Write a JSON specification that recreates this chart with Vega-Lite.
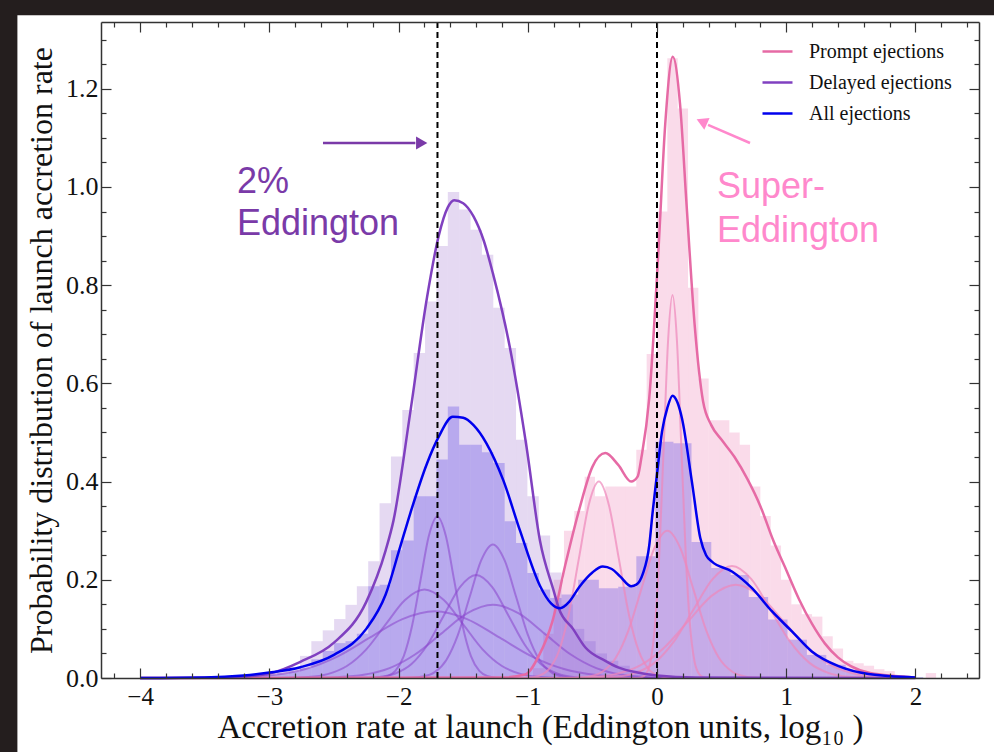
{
  "$schema": "https://vega.github.io/schema/vega-lite/v6.json",
  "width": 878,
  "height": 656,
  "autosize": {"type": "none"},
  "padding": {"left": 101, "top": 22, "right": 15, "bottom": 74},
  "background": "#241e1e",
  "config": {
    "view": {"stroke": null},
    "axis": {"grid": false}
  },
  "data": {"values": [{}]},
  "datasets": {
    "hist": [
      {"g": "prompt", "x0": -0.96, "x1": -0.88, "h": 0.02},
      {"g": "prompt", "x0": -0.88, "x1": -0.8, "h": 0.09},
      {"g": "prompt", "x0": -0.8, "x1": -0.72, "h": 0.2},
      {"g": "prompt", "x0": -0.72, "x1": -0.64, "h": 0.3},
      {"g": "prompt", "x0": -0.64, "x1": -0.56, "h": 0.34},
      {"g": "prompt", "x0": -0.56, "x1": -0.48, "h": 0.41},
      {"g": "prompt", "x0": -0.48, "x1": -0.4, "h": 0.37},
      {"g": "prompt", "x0": -0.4, "x1": -0.32, "h": 0.39},
      {"g": "prompt", "x0": -0.32, "x1": -0.24, "h": 0.39},
      {"g": "prompt", "x0": -0.24, "x1": -0.16, "h": 0.39},
      {"g": "prompt", "x0": -0.16, "x1": -0.08, "h": 0.465},
      {"g": "prompt", "x0": -0.08, "x1": 0.0, "h": 0.66},
      {"g": "prompt", "x0": 0.0, "x1": 0.08, "h": 0.95},
      {"g": "prompt", "x0": 0.08, "x1": 0.16, "h": 1.262},
      {"g": "prompt", "x0": 0.16, "x1": 0.24, "h": 1.16},
      {"g": "prompt", "x0": 0.24, "x1": 0.32, "h": 0.795},
      {"g": "prompt", "x0": 0.32, "x1": 0.4, "h": 0.61},
      {"g": "prompt", "x0": 0.4, "x1": 0.48, "h": 0.525},
      {"g": "prompt", "x0": 0.48, "x1": 0.56, "h": 0.525},
      {"g": "prompt", "x0": 0.56, "x1": 0.64, "h": 0.5},
      {"g": "prompt", "x0": 0.64, "x1": 0.72, "h": 0.475},
      {"g": "prompt", "x0": 0.72, "x1": 0.8, "h": 0.39},
      {"g": "prompt", "x0": 0.8, "x1": 0.88, "h": 0.33},
      {"g": "prompt", "x0": 0.88, "x1": 0.96, "h": 0.27},
      {"g": "prompt", "x0": 0.96, "x1": 1.04, "h": 0.2},
      {"g": "prompt", "x0": 1.04, "x1": 1.12, "h": 0.15},
      {"g": "prompt", "x0": 1.12, "x1": 1.2, "h": 0.13},
      {"g": "prompt", "x0": 1.2, "x1": 1.28, "h": 0.125},
      {"g": "prompt", "x0": 1.28, "x1": 1.36, "h": 0.085},
      {"g": "prompt", "x0": 1.36, "x1": 1.44, "h": 0.06},
      {"g": "prompt", "x0": 1.44, "x1": 1.52, "h": 0.035},
      {"g": "prompt", "x0": 1.52, "x1": 1.6, "h": 0.03},
      {"g": "prompt", "x0": 1.6, "x1": 1.68, "h": 0.025},
      {"g": "prompt", "x0": 1.68, "x1": 1.76, "h": 0.018},
      {"g": "prompt", "x0": 1.76, "x1": 1.84, "h": 0.014},
      {"g": "prompt", "x0": 1.84, "x1": 1.92, "h": 0.006},
      {"g": "prompt", "x0": 1.92, "x1": 2.0, "h": 0.004},
      {"g": "prompt", "x0": 2.08, "x1": 2.16, "h": 0.01},

      {"g": "delayed", "x0": -3.203, "x1": -3.115, "h": 0.004},
      {"g": "delayed", "x0": -3.115, "x1": -3.027, "h": 0.008},
      {"g": "delayed", "x0": -3.027, "x1": -2.939, "h": 0.012},
      {"g": "delayed", "x0": -2.939, "x1": -2.851, "h": 0.015},
      {"g": "delayed", "x0": -2.851, "x1": -2.763, "h": 0.022},
      {"g": "delayed", "x0": -2.763, "x1": -2.675, "h": 0.045},
      {"g": "delayed", "x0": -2.675, "x1": -2.587, "h": 0.075},
      {"g": "delayed", "x0": -2.587, "x1": -2.499, "h": 0.097},
      {"g": "delayed", "x0": -2.499, "x1": -2.411, "h": 0.12},
      {"g": "delayed", "x0": -2.411, "x1": -2.323, "h": 0.149},
      {"g": "delayed", "x0": -2.323, "x1": -2.235, "h": 0.187},
      {"g": "delayed", "x0": -2.235, "x1": -2.147, "h": 0.238},
      {"g": "delayed", "x0": -2.147, "x1": -2.059, "h": 0.356},
      {"g": "delayed", "x0": -2.059, "x1": -1.971, "h": 0.451},
      {"g": "delayed", "x0": -1.971, "x1": -1.883, "h": 0.546},
      {"g": "delayed", "x0": -1.883, "x1": -1.795, "h": 0.662},
      {"g": "delayed", "x0": -1.795, "x1": -1.707, "h": 0.767},
      {"g": "delayed", "x0": -1.707, "x1": -1.619, "h": 0.88},
      {"g": "delayed", "x0": -1.619, "x1": -1.531, "h": 0.99},
      {"g": "delayed", "x0": -1.531, "x1": -1.443, "h": 0.954},
      {"g": "delayed", "x0": -1.443, "x1": -1.355, "h": 0.913},
      {"g": "delayed", "x0": -1.355, "x1": -1.267, "h": 0.862},
      {"g": "delayed", "x0": -1.267, "x1": -1.179, "h": 0.754},
      {"g": "delayed", "x0": -1.179, "x1": -1.091, "h": 0.672},
      {"g": "delayed", "x0": -1.091, "x1": -1.003, "h": 0.485},
      {"g": "delayed", "x0": -1.003, "x1": -0.915, "h": 0.37},
      {"g": "delayed", "x0": -0.915, "x1": -0.827, "h": 0.29},
      {"g": "delayed", "x0": -0.827, "x1": -0.739, "h": 0.215},
      {"g": "delayed", "x0": -0.739, "x1": -0.651, "h": 0.15},
      {"g": "delayed", "x0": -0.651, "x1": -0.563, "h": 0.1},
      {"g": "delayed", "x0": -0.563, "x1": -0.475, "h": 0.075},
      {"g": "delayed", "x0": -0.475, "x1": -0.387, "h": 0.05},
      {"g": "delayed", "x0": -0.387, "x1": -0.299, "h": 0.035},
      {"g": "delayed", "x0": -0.299, "x1": -0.211, "h": 0.025},
      {"g": "delayed", "x0": -0.211, "x1": -0.123, "h": 0.015},
      {"g": "delayed", "x0": -0.123, "x1": -0.035, "h": 0.01},
      {"g": "delayed", "x0": -0.035, "x1": 0.053, "h": 0.006},

      {"g": "all", "x0": -3.115, "x1": -3.027, "h": 0.004},
      {"g": "all", "x0": -3.027, "x1": -2.939, "h": 0.006},
      {"g": "all", "x0": -2.939, "x1": -2.851, "h": 0.009},
      {"g": "all", "x0": -2.851, "x1": -2.763, "h": 0.013},
      {"g": "all", "x0": -2.763, "x1": -2.675, "h": 0.02},
      {"g": "all", "x0": -2.675, "x1": -2.587, "h": 0.038},
      {"g": "all", "x0": -2.587, "x1": -2.499, "h": 0.055},
      {"g": "all", "x0": -2.499, "x1": -2.411, "h": 0.071},
      {"g": "all", "x0": -2.411, "x1": -2.323, "h": 0.075},
      {"g": "all", "x0": -2.323, "x1": -2.235, "h": 0.09},
      {"g": "all", "x0": -2.235, "x1": -2.147, "h": 0.187},
      {"g": "all", "x0": -2.147, "x1": -2.059, "h": 0.19},
      {"g": "all", "x0": -2.059, "x1": -1.971, "h": 0.26},
      {"g": "all", "x0": -1.971, "x1": -1.883, "h": 0.28},
      {"g": "all", "x0": -1.883, "x1": -1.795, "h": 0.37},
      {"g": "all", "x0": -1.795, "x1": -1.707, "h": 0.37},
      {"g": "all", "x0": -1.707, "x1": -1.619, "h": 0.445},
      {"g": "all", "x0": -1.619, "x1": -1.531, "h": 0.553},
      {"g": "all", "x0": -1.531, "x1": -1.443, "h": 0.475},
      {"g": "all", "x0": -1.443, "x1": -1.355, "h": 0.475},
      {"g": "all", "x0": -1.355, "x1": -1.267, "h": 0.46},
      {"g": "all", "x0": -1.267, "x1": -1.179, "h": 0.438},
      {"g": "all", "x0": -1.179, "x1": -1.091, "h": 0.319},
      {"g": "all", "x0": -1.091, "x1": -1.003, "h": 0.275},
      {"g": "all", "x0": -1.003, "x1": -0.915, "h": 0.214},
      {"g": "all", "x0": -0.915, "x1": -0.827, "h": 0.18},
      {"g": "all", "x0": -0.827, "x1": -0.739, "h": 0.163},
      {"g": "all", "x0": -0.739, "x1": -0.61, "h": 0.17},
      {"g": "all", "x0": -0.61, "x1": -0.45, "h": 0.2},
      {"g": "all", "x0": -0.45, "x1": -0.3, "h": 0.183},
      {"g": "all", "x0": -0.3, "x1": -0.16, "h": 0.186},
      {"g": "all", "x0": -0.16, "x1": -0.013, "h": 0.248},
      {"g": "all", "x0": -0.013, "x1": 0.127, "h": 0.481},
      {"g": "all", "x0": 0.127, "x1": 0.267, "h": 0.478},
      {"g": "all", "x0": 0.267, "x1": 0.42, "h": 0.277},
      {"g": "all", "x0": 0.42, "x1": 0.57, "h": 0.224},
      {"g": "all", "x0": 0.57, "x1": 0.71, "h": 0.21},
      {"g": "all", "x0": 0.71, "x1": 0.86, "h": 0.165},
      {"g": "all", "x0": 0.86, "x1": 1.01, "h": 0.119},
      {"g": "all", "x0": 1.01, "x1": 1.16, "h": 0.078},
      {"g": "all", "x0": 1.16, "x1": 1.31, "h": 0.047},
      {"g": "all", "x0": 1.31, "x1": 1.46, "h": 0.027},
      {"g": "all", "x0": 1.46, "x1": 1.61, "h": 0.014},
      {"g": "all", "x0": 1.61, "x1": 1.76, "h": 0.008},
      {"g": "all", "x0": 1.76, "x1": 1.91, "h": 0.004},
      {"g": "all", "x0": 1.91, "x1": 2.06, "h": 0.002}
    ],
    "curves": [
      {"s": "Prompt ejections", "x": -4, "y": 0},
      {"s": "Prompt ejections", "x": -1.2, "y": 0.001},
      {"s": "Prompt ejections", "x": -1.02, "y": 0.007},
      {"s": "Prompt ejections", "x": -0.915, "y": 0.045},
      {"s": "Prompt ejections", "x": -0.81, "y": 0.115},
      {"s": "Prompt ejections", "x": -0.71, "y": 0.23},
      {"s": "Prompt ejections", "x": -0.6, "y": 0.345},
      {"s": "Prompt ejections", "x": -0.5, "y": 0.43},
      {"s": "Prompt ejections", "x": -0.4, "y": 0.458},
      {"s": "Prompt ejections", "x": -0.3, "y": 0.434},
      {"s": "Prompt ejections", "x": -0.2, "y": 0.4},
      {"s": "Prompt ejections", "x": -0.15, "y": 0.41},
      {"s": "Prompt ejections", "x": -0.12, "y": 0.45},
      {"s": "Prompt ejections", "x": -0.06, "y": 0.57},
      {"s": "Prompt ejections", "x": 0.013, "y": 0.88},
      {"s": "Prompt ejections", "x": 0.064, "y": 1.129},
      {"s": "Prompt ejections", "x": 0.122, "y": 1.265},
      {"s": "Prompt ejections", "x": 0.178, "y": 1.17},
      {"s": "Prompt ejections", "x": 0.229, "y": 0.963},
      {"s": "Prompt ejections", "x": 0.293, "y": 0.714},
      {"s": "Prompt ejections", "x": 0.356, "y": 0.564},
      {"s": "Prompt ejections", "x": 0.42, "y": 0.515},
      {"s": "Prompt ejections", "x": 0.5, "y": 0.485},
      {"s": "Prompt ejections", "x": 0.6, "y": 0.45},
      {"s": "Prompt ejections", "x": 0.7, "y": 0.405},
      {"s": "Prompt ejections", "x": 0.8, "y": 0.35},
      {"s": "Prompt ejections", "x": 0.9, "y": 0.28},
      {"s": "Prompt ejections", "x": 1.0, "y": 0.22},
      {"s": "Prompt ejections", "x": 1.1, "y": 0.16},
      {"s": "Prompt ejections", "x": 1.2, "y": 0.11},
      {"s": "Prompt ejections", "x": 1.3, "y": 0.07},
      {"s": "Prompt ejections", "x": 1.4, "y": 0.042},
      {"s": "Prompt ejections", "x": 1.5, "y": 0.024},
      {"s": "Prompt ejections", "x": 1.65, "y": 0.01},
      {"s": "Prompt ejections", "x": 2.0, "y": 0.001},

      {"s": "Delayed ejections", "x": -4, "y": 0},
      {"s": "Delayed ejections", "x": -3.5, "y": 0.0005},
      {"s": "Delayed ejections", "x": -3.2, "y": 0.003},
      {"s": "Delayed ejections", "x": -3.0, "y": 0.009},
      {"s": "Delayed ejections", "x": -2.76, "y": 0.033},
      {"s": "Delayed ejections", "x": -2.5, "y": 0.072},
      {"s": "Delayed ejections", "x": -2.25, "y": 0.155},
      {"s": "Delayed ejections", "x": -2.1, "y": 0.26},
      {"s": "Delayed ejections", "x": -2.04, "y": 0.32},
      {"s": "Delayed ejections", "x": -1.91, "y": 0.54},
      {"s": "Delayed ejections", "x": -1.78, "y": 0.775},
      {"s": "Delayed ejections", "x": -1.69, "y": 0.9},
      {"s": "Delayed ejections", "x": -1.62, "y": 0.958},
      {"s": "Delayed ejections", "x": -1.57, "y": 0.973},
      {"s": "Delayed ejections", "x": -1.5, "y": 0.967},
      {"s": "Delayed ejections", "x": -1.42, "y": 0.94},
      {"s": "Delayed ejections", "x": -1.34, "y": 0.89},
      {"s": "Delayed ejections", "x": -1.27, "y": 0.824},
      {"s": "Delayed ejections", "x": -1.14, "y": 0.675},
      {"s": "Delayed ejections", "x": -1.01, "y": 0.471},
      {"s": "Delayed ejections", "x": -0.906, "y": 0.28},
      {"s": "Delayed ejections", "x": -0.8, "y": 0.178},
      {"s": "Delayed ejections", "x": -0.76, "y": 0.142},
      {"s": "Delayed ejections", "x": -0.65, "y": 0.1},
      {"s": "Delayed ejections", "x": -0.554, "y": 0.062},
      {"s": "Delayed ejections", "x": -0.4, "y": 0.035},
      {"s": "Delayed ejections", "x": -0.296, "y": 0.021},
      {"s": "Delayed ejections", "x": -0.15, "y": 0.011},
      {"s": "Delayed ejections", "x": 0, "y": 0.005},
      {"s": "Delayed ejections", "x": 0.3, "y": 0.001},
      {"s": "Delayed ejections", "x": 2, "y": 0},

      {"s": "All ejections", "x": -4, "y": 0},
      {"s": "All ejections", "x": -3.5, "y": 0.001},
      {"s": "All ejections", "x": -3.2, "y": 0.005},
      {"s": "All ejections", "x": -3.0, "y": 0.011},
      {"s": "All ejections", "x": -2.76, "y": 0.022},
      {"s": "All ejections", "x": -2.5, "y": 0.047},
      {"s": "All ejections", "x": -2.25, "y": 0.1},
      {"s": "All ejections", "x": -2.1, "y": 0.17},
      {"s": "All ejections", "x": -1.99, "y": 0.265},
      {"s": "All ejections", "x": -1.91, "y": 0.335},
      {"s": "All ejections", "x": -1.78, "y": 0.437},
      {"s": "All ejections", "x": -1.69, "y": 0.491},
      {"s": "All ejections", "x": -1.58, "y": 0.532},
      {"s": "All ejections", "x": -1.5, "y": 0.53},
      {"s": "All ejections", "x": -1.42, "y": 0.515},
      {"s": "All ejections", "x": -1.32, "y": 0.478},
      {"s": "All ejections", "x": -1.19, "y": 0.403},
      {"s": "All ejections", "x": -1.06, "y": 0.3},
      {"s": "All ejections", "x": -0.906, "y": 0.188},
      {"s": "All ejections", "x": -0.82, "y": 0.152},
      {"s": "All ejections", "x": -0.75, "y": 0.142},
      {"s": "All ejections", "x": -0.68, "y": 0.155},
      {"s": "All ejections", "x": -0.6, "y": 0.186},
      {"s": "All ejections", "x": -0.5, "y": 0.215},
      {"s": "All ejections", "x": -0.42, "y": 0.227},
      {"s": "All ejections", "x": -0.35, "y": 0.222},
      {"s": "All ejections", "x": -0.286, "y": 0.207},
      {"s": "All ejections", "x": -0.2, "y": 0.187},
      {"s": "All ejections", "x": -0.16, "y": 0.19},
      {"s": "All ejections", "x": -0.11, "y": 0.212},
      {"s": "All ejections", "x": -0.06, "y": 0.27},
      {"s": "All ejections", "x": -0.035, "y": 0.335},
      {"s": "All ejections", "x": 0.0, "y": 0.415},
      {"s": "All ejections", "x": 0.039, "y": 0.502},
      {"s": "All ejections", "x": 0.08, "y": 0.55},
      {"s": "All ejections", "x": 0.12, "y": 0.575},
      {"s": "All ejections", "x": 0.16, "y": 0.56},
      {"s": "All ejections", "x": 0.193, "y": 0.529},
      {"s": "All ejections", "x": 0.27, "y": 0.4},
      {"s": "All ejections", "x": 0.335, "y": 0.285},
      {"s": "All ejections", "x": 0.38, "y": 0.25},
      {"s": "All ejections", "x": 0.425, "y": 0.237},
      {"s": "All ejections", "x": 0.58, "y": 0.217},
      {"s": "All ejections", "x": 0.735, "y": 0.183},
      {"s": "All ejections", "x": 0.889, "y": 0.136},
      {"s": "All ejections", "x": 1.044, "y": 0.095},
      {"s": "All ejections", "x": 1.198, "y": 0.054},
      {"s": "All ejections", "x": 1.405, "y": 0.024},
      {"s": "All ejections", "x": 1.637, "y": 0.008},
      {"s": "All ejections", "x": 2.0, "y": 0.001}
    ],
    "comps": [
      {"c": "d1", "f": "d", "x": -4, "y": 0},
      {"c": "d1", "f": "d", "x": -2.22, "y": 0},
      {"c": "d1", "f": "d", "x": -2.155, "y": 0.0007},
      {"c": "d1", "f": "d", "x": -2.09, "y": 0.0037},
      {"c": "d1", "f": "d", "x": -2.025, "y": 0.0144},
      {"c": "d1", "f": "d", "x": -1.96, "y": 0.0445},
      {"c": "d1", "f": "d", "x": -1.895, "y": 0.1068},
      {"c": "d1", "f": "d", "x": -1.83, "y": 0.1995},
      {"c": "d1", "f": "d", "x": -1.765, "y": 0.2903},
      {"c": "d1", "f": "d", "x": -1.7, "y": 0.329},
      {"c": "d1", "f": "d", "x": -1.635, "y": 0.2903},
      {"c": "d1", "f": "d", "x": -1.57, "y": 0.1995},
      {"c": "d1", "f": "d", "x": -1.505, "y": 0.1068},
      {"c": "d1", "f": "d", "x": -1.44, "y": 0.0445},
      {"c": "d1", "f": "d", "x": -1.375, "y": 0.0144},
      {"c": "d1", "f": "d", "x": -1.31, "y": 0.0037},
      {"c": "d1", "f": "d", "x": -1.245, "y": 0.0007},
      {"c": "d1", "f": "d", "x": -1.18, "y": 0},
      {"c": "d1", "f": "d", "x": 2, "y": 0},

      {"c": "d2", "f": "d", "x": -4, "y": 0},
      {"c": "d2", "f": "d", "x": -1.99, "y": 0},
      {"c": "d2", "f": "d", "x": -1.9, "y": 0.0006},
      {"c": "d2", "f": "d", "x": -1.81, "y": 0.003},
      {"c": "d2", "f": "d", "x": -1.72, "y": 0.0119},
      {"c": "d2", "f": "d", "x": -1.63, "y": 0.0368},
      {"c": "d2", "f": "d", "x": -1.54, "y": 0.0883},
      {"c": "d2", "f": "d", "x": -1.45, "y": 0.165},
      {"c": "d2", "f": "d", "x": -1.36, "y": 0.24},
      {"c": "d2", "f": "d", "x": -1.27, "y": 0.272},
      {"c": "d2", "f": "d", "x": -1.18, "y": 0.24},
      {"c": "d2", "f": "d", "x": -1.09, "y": 0.165},
      {"c": "d2", "f": "d", "x": -1.0, "y": 0.0883},
      {"c": "d2", "f": "d", "x": -0.91, "y": 0.0368},
      {"c": "d2", "f": "d", "x": -0.82, "y": 0.0119},
      {"c": "d2", "f": "d", "x": -0.73, "y": 0.003},
      {"c": "d2", "f": "d", "x": -0.64, "y": 0.0006},
      {"c": "d2", "f": "d", "x": -0.55, "y": 0},
      {"c": "d2", "f": "d", "x": 2, "y": 0},

      {"c": "d3", "f": "d", "x": -4, "y": 0},
      {"c": "d3", "f": "d", "x": -2.4, "y": 0},
      {"c": "d3", "f": "d", "x": -2.275, "y": 0.0005},
      {"c": "d3", "f": "d", "x": -2.15, "y": 0.0023},
      {"c": "d3", "f": "d", "x": -2.025, "y": 0.0092},
      {"c": "d3", "f": "d", "x": -1.9, "y": 0.0284},
      {"c": "d3", "f": "d", "x": -1.775, "y": 0.0682},
      {"c": "d3", "f": "d", "x": -1.65, "y": 0.1274},
      {"c": "d3", "f": "d", "x": -1.525, "y": 0.1853},
      {"c": "d3", "f": "d", "x": -1.4, "y": 0.21},
      {"c": "d3", "f": "d", "x": -1.275, "y": 0.1853},
      {"c": "d3", "f": "d", "x": -1.15, "y": 0.1274},
      {"c": "d3", "f": "d", "x": -1.025, "y": 0.0682},
      {"c": "d3", "f": "d", "x": -0.9, "y": 0.0284},
      {"c": "d3", "f": "d", "x": -0.775, "y": 0.0092},
      {"c": "d3", "f": "d", "x": -0.65, "y": 0.0023},
      {"c": "d3", "f": "d", "x": -0.525, "y": 0.0005},
      {"c": "d3", "f": "d", "x": -0.4, "y": 0},
      {"c": "d3", "f": "d", "x": 2, "y": 0},

      {"c": "d4", "f": "d", "x": -4, "y": 0},
      {"c": "d4", "f": "d", "x": -3.0, "y": 0},
      {"c": "d4", "f": "d", "x": -2.85, "y": 0.0004},
      {"c": "d4", "f": "d", "x": -2.7, "y": 0.002},
      {"c": "d4", "f": "d", "x": -2.55, "y": 0.0079},
      {"c": "d4", "f": "d", "x": -2.4, "y": 0.0244},
      {"c": "d4", "f": "d", "x": -2.25, "y": 0.0584},
      {"c": "d4", "f": "d", "x": -2.1, "y": 0.1092},
      {"c": "d4", "f": "d", "x": -1.95, "y": 0.1589},
      {"c": "d4", "f": "d", "x": -1.8, "y": 0.18},
      {"c": "d4", "f": "d", "x": -1.65, "y": 0.1589},
      {"c": "d4", "f": "d", "x": -1.5, "y": 0.1092},
      {"c": "d4", "f": "d", "x": -1.35, "y": 0.0584},
      {"c": "d4", "f": "d", "x": -1.2, "y": 0.0244},
      {"c": "d4", "f": "d", "x": -1.05, "y": 0.0079},
      {"c": "d4", "f": "d", "x": -0.9, "y": 0.002},
      {"c": "d4", "f": "d", "x": -0.75, "y": 0.0004},
      {"c": "d4", "f": "d", "x": -0.6, "y": 0},
      {"c": "d4", "f": "d", "x": 2, "y": 0},

      {"c": "d5", "f": "d", "x": -4, "y": 0},
      {"c": "d5", "f": "d", "x": -3.72, "y": 0},
      {"c": "d5", "f": "d", "x": -3.47, "y": 0.0003},
      {"c": "d5", "f": "d", "x": -3.22, "y": 0.0015},
      {"c": "d5", "f": "d", "x": -2.97, "y": 0.006},
      {"c": "d5", "f": "d", "x": -2.72, "y": 0.0184},
      {"c": "d5", "f": "d", "x": -2.47, "y": 0.0442},
      {"c": "d5", "f": "d", "x": -2.22, "y": 0.0825},
      {"c": "d5", "f": "d", "x": -1.97, "y": 0.12},
      {"c": "d5", "f": "d", "x": -1.72, "y": 0.136},
      {"c": "d5", "f": "d", "x": -1.47, "y": 0.12},
      {"c": "d5", "f": "d", "x": -1.22, "y": 0.0825},
      {"c": "d5", "f": "d", "x": -0.97, "y": 0.0442},
      {"c": "d5", "f": "d", "x": -0.72, "y": 0.0184},
      {"c": "d5", "f": "d", "x": -0.47, "y": 0.006},
      {"c": "d5", "f": "d", "x": -0.22, "y": 0.0015},
      {"c": "d5", "f": "d", "x": 0.03, "y": 0.0003},
      {"c": "d5", "f": "d", "x": 0.28, "y": 0},
      {"c": "d5", "f": "d", "x": 2, "y": 0},

      {"c": "d6", "f": "d", "x": -4, "y": 0},
      {"c": "d6", "f": "d", "x": -2.87, "y": 0},
      {"c": "d6", "f": "d", "x": -2.67, "y": 0.0003},
      {"c": "d6", "f": "d", "x": -2.47, "y": 0.0017},
      {"c": "d6", "f": "d", "x": -2.27, "y": 0.0065},
      {"c": "d6", "f": "d", "x": -2.07, "y": 0.0202},
      {"c": "d6", "f": "d", "x": -1.87, "y": 0.0484},
      {"c": "d6", "f": "d", "x": -1.67, "y": 0.0904},
      {"c": "d6", "f": "d", "x": -1.47, "y": 0.1315},
      {"c": "d6", "f": "d", "x": -1.27, "y": 0.149},
      {"c": "d6", "f": "d", "x": -1.07, "y": 0.1315},
      {"c": "d6", "f": "d", "x": -0.87, "y": 0.0904},
      {"c": "d6", "f": "d", "x": -0.67, "y": 0.0484},
      {"c": "d6", "f": "d", "x": -0.47, "y": 0.0202},
      {"c": "d6", "f": "d", "x": -0.27, "y": 0.0065},
      {"c": "d6", "f": "d", "x": -0.07, "y": 0.0017},
      {"c": "d6", "f": "d", "x": 0.13, "y": 0.0003},
      {"c": "d6", "f": "d", "x": 0.33, "y": 0},
      {"c": "d6", "f": "d", "x": 2, "y": 0},

      {"c": "p1", "f": "p", "x": -4, "y": 0},
      {"c": "p1", "f": "p", "x": -1.07, "y": 0},
      {"c": "p1", "f": "p", "x": -0.993, "y": 0.0009},
      {"c": "p1", "f": "p", "x": -0.915, "y": 0.0044},
      {"c": "p1", "f": "p", "x": -0.838, "y": 0.0176},
      {"c": "p1", "f": "p", "x": -0.76, "y": 0.0541},
      {"c": "p1", "f": "p", "x": -0.683, "y": 0.1299},
      {"c": "p1", "f": "p", "x": -0.605, "y": 0.2426},
      {"c": "p1", "f": "p", "x": -0.528, "y": 0.353},
      {"c": "p1", "f": "p", "x": -0.45, "y": 0.4},
      {"c": "p1", "f": "p", "x": -0.373, "y": 0.353},
      {"c": "p1", "f": "p", "x": -0.295, "y": 0.2426},
      {"c": "p1", "f": "p", "x": -0.218, "y": 0.1299},
      {"c": "p1", "f": "p", "x": -0.14, "y": 0.0541},
      {"c": "p1", "f": "p", "x": -0.063, "y": 0.0176},
      {"c": "p1", "f": "p", "x": 0.015, "y": 0.0044},
      {"c": "p1", "f": "p", "x": 0.093, "y": 0.0009},
      {"c": "p1", "f": "p", "x": 0.17, "y": 0},
      {"c": "p1", "f": "p", "x": 2, "y": 0},

      {"c": "p2", "f": "p", "x": -4, "y": 0},
      {"c": "p2", "f": "p", "x": -0.152, "y": 0},
      {"c": "p2", "f": "p", "x": -0.118, "y": 0.0017},
      {"c": "p2", "f": "p", "x": -0.084, "y": 0.0087},
      {"c": "p2", "f": "p", "x": -0.05, "y": 0.0342},
      {"c": "p2", "f": "p", "x": -0.016, "y": 0.1055},
      {"c": "p2", "f": "p", "x": 0.018, "y": 0.2533},
      {"c": "p2", "f": "p", "x": 0.052, "y": 0.4731},
      {"c": "p2", "f": "p", "x": 0.086, "y": 0.6884},
      {"c": "p2", "f": "p", "x": 0.12, "y": 0.78},
      {"c": "p2", "f": "p", "x": 0.154, "y": 0.6884},
      {"c": "p2", "f": "p", "x": 0.188, "y": 0.4731},
      {"c": "p2", "f": "p", "x": 0.222, "y": 0.2533},
      {"c": "p2", "f": "p", "x": 0.256, "y": 0.1055},
      {"c": "p2", "f": "p", "x": 0.29, "y": 0.0342},
      {"c": "p2", "f": "p", "x": 0.324, "y": 0.0087},
      {"c": "p2", "f": "p", "x": 0.358, "y": 0.0017},
      {"c": "p2", "f": "p", "x": 0.392, "y": 0},
      {"c": "p2", "f": "p", "x": 2, "y": 0},

      {"c": "p3", "f": "p", "x": -4, "y": 0},
      {"c": "p3", "f": "p", "x": -0.72, "y": 0},
      {"c": "p3", "f": "p", "x": -0.62, "y": 0.0007},
      {"c": "p3", "f": "p", "x": -0.52, "y": 0.0033},
      {"c": "p3", "f": "p", "x": -0.42, "y": 0.0132},
      {"c": "p3", "f": "p", "x": -0.32, "y": 0.0406},
      {"c": "p3", "f": "p", "x": -0.22, "y": 0.0974},
      {"c": "p3", "f": "p", "x": -0.12, "y": 0.182},
      {"c": "p3", "f": "p", "x": -0.02, "y": 0.2648},
      {"c": "p3", "f": "p", "x": 0.08, "y": 0.3},
      {"c": "p3", "f": "p", "x": 0.18, "y": 0.2648},
      {"c": "p3", "f": "p", "x": 0.28, "y": 0.182},
      {"c": "p3", "f": "p", "x": 0.38, "y": 0.0974},
      {"c": "p3", "f": "p", "x": 0.48, "y": 0.0406},
      {"c": "p3", "f": "p", "x": 0.58, "y": 0.0132},
      {"c": "p3", "f": "p", "x": 0.68, "y": 0.0033},
      {"c": "p3", "f": "p", "x": 0.78, "y": 0.0007},
      {"c": "p3", "f": "p", "x": 0.88, "y": 0},
      {"c": "p3", "f": "p", "x": 2, "y": 0},

      {"c": "p4", "f": "p", "x": -4, "y": 0},
      {"c": "p4", "f": "p", "x": -0.62, "y": 0},
      {"c": "p4", "f": "p", "x": -0.47, "y": 0.0005},
      {"c": "p4", "f": "p", "x": -0.32, "y": 0.0025},
      {"c": "p4", "f": "p", "x": -0.17, "y": 0.01},
      {"c": "p4", "f": "p", "x": -0.02, "y": 0.0308},
      {"c": "p4", "f": "p", "x": 0.13, "y": 0.074},
      {"c": "p4", "f": "p", "x": 0.28, "y": 0.1383},
      {"c": "p4", "f": "p", "x": 0.43, "y": 0.2012},
      {"c": "p4", "f": "p", "x": 0.58, "y": 0.228},
      {"c": "p4", "f": "p", "x": 0.73, "y": 0.2012},
      {"c": "p4", "f": "p", "x": 0.88, "y": 0.1383},
      {"c": "p4", "f": "p", "x": 1.03, "y": 0.074},
      {"c": "p4", "f": "p", "x": 1.18, "y": 0.0308},
      {"c": "p4", "f": "p", "x": 1.33, "y": 0.01},
      {"c": "p4", "f": "p", "x": 1.48, "y": 0.0025},
      {"c": "p4", "f": "p", "x": 1.63, "y": 0.0005},
      {"c": "p4", "f": "p", "x": 1.78, "y": 0},
      {"c": "p4", "f": "p", "x": 2, "y": 0},

      {"c": "p5", "f": "p", "x": -4, "y": 0},
      {"c": "p5", "f": "p", "x": -0.87, "y": 0},
      {"c": "p5", "f": "p", "x": -0.685, "y": 0.0004},
      {"c": "p5", "f": "p", "x": -0.5, "y": 0.0021},
      {"c": "p5", "f": "p", "x": -0.315, "y": 0.0083},
      {"c": "p5", "f": "p", "x": -0.13, "y": 0.0257},
      {"c": "p5", "f": "p", "x": 0.055, "y": 0.0617},
      {"c": "p5", "f": "p", "x": 0.24, "y": 0.1152},
      {"c": "p5", "f": "p", "x": 0.425, "y": 0.1677},
      {"c": "p5", "f": "p", "x": 0.61, "y": 0.19},
      {"c": "p5", "f": "p", "x": 0.795, "y": 0.1677},
      {"c": "p5", "f": "p", "x": 0.98, "y": 0.1152},
      {"c": "p5", "f": "p", "x": 1.165, "y": 0.0617},
      {"c": "p5", "f": "p", "x": 1.35, "y": 0.0257},
      {"c": "p5", "f": "p", "x": 1.535, "y": 0.0083},
      {"c": "p5", "f": "p", "x": 1.72, "y": 0.0021},
      {"c": "p5", "f": "p", "x": 1.905, "y": 0.0004},
      {"c": "p5", "f": "p", "x": 2, "y": 0}
    ]
  },
  "resolve": {"axis": {"x": "independent", "y": "independent"}},
  "layer": [
    {
      "description": "white page behind the figure",
      "mark": {"type": "rect", "color": "white", "clip": false},
      "encoding": {
        "x": {"datum": -4.95, "type": "quantitative", "scale": {"domain": [-4.303, 2.492], "nice": false, "zero": false}, "axis": null},
        "x2": {"datum": 2.8},
        "y": {"datum": -0.25, "type": "quantitative", "scale": {"domain": [0, 1.336], "nice": false, "zero": false}, "axis": null},
        "y2": {"datum": 1.35}
      }
    },
    {
      "data": {"name": "hist"},
      "transform": [{"filter": "datum.g === 'prompt'"}],
      "mark": {"type": "rect", "color": "#ee88bb", "opacity": 0.3},
      "encoding": {
        "x": {
          "field": "x0", "type": "quantitative",
          "scale": {"domain": [-4.303, 2.492], "nice": false, "zero": false},
          "axis": {
            "orient": "bottom", "zindex": 2,
            "values": [-4.2, -4, -3.8, -3.6, -3.4, -3.2, -3, -2.8, -2.6, -2.4, -2.2, -2, -1.8, -1.6, -1.4, -1.2, -1, -0.8, -0.6, -0.4, -0.2, 0, 0.2, 0.4, 0.6, 0.8, 1, 1.2, 1.4, 1.6, 1.8, 2, 2.2, 2.4],
            "title": "Accretion rate at launch (Eddington units, log₁₀ )",
            "titleFont": "Liberation Serif", "titleFontSize": 33, "titleFontWeight": "normal", "titleColor": "#111", "titlePadding": -3,
            "labelFont": "Liberation Serif", "labelFontSize": 25, "labelColor": "#111",
            "labelExpr": "abs(datum.value - round(datum.value)) < 0.001 ? (datum.value < -0.5 ? '\u2212' + format(-datum.value, 'd') : format(datum.value, 'd')) : ''",
            "labelPadding": 16, "labelFlush": false, "labelOverlap": false,
            "domainColor": "#333", "domainWidth": 1.5,
            "tickColor": "#333", "tickWidth": 1.2,
            "tickSize": {"condition": {"test": "abs(datum.value - round(datum.value)) < 0.001", "value": -10}, "value": -5}
          }
        },
        "x2": {"field": "x1"},
        "y": {
          "field": "h", "type": "quantitative",
          "scale": {"domain": [0, 1.336], "nice": false, "zero": false},
          "axis": {
            "orient": "left", "zindex": 2,
            "values": [0, 0.05, 0.1, 0.15, 0.2, 0.25, 0.3, 0.35, 0.4, 0.45, 0.5, 0.55, 0.6, 0.65, 0.7, 0.75, 0.8, 0.85, 0.9, 0.95, 1, 1.05, 1.1, 1.15, 1.2, 1.25, 1.3],
            "title": "Probability distribution of launch accretion rate",
            "titleFont": "Liberation Serif", "titleFontSize": 32, "titleFontWeight": "normal", "titleColor": "#111", "titlePadding": 7,
            "labelFont": "Liberation Serif", "labelFontSize": 26, "labelColor": "#111",
            "labelExpr": "abs(datum.value * 5 - round(datum.value * 5)) < 0.001 ? format(datum.value, '.1f') : ''",
            "labelPadding": 13, "labelFlush": false, "labelOverlap": false,
            "domainColor": "#333", "domainWidth": 1.5,
            "tickColor": "#333", "tickWidth": 1.2,
            "tickSize": {"condition": {"test": "abs(datum.value * 5 - round(datum.value * 5)) < 0.001", "value": -10}, "value": -5}
          }
        },
        "y2": {"datum": 0}
      }
    },
    {
      "data": {"name": "hist"},
      "transform": [{"filter": "datum.g === 'delayed'"}],
      "mark": {"type": "rect", "color": "#9966cc", "opacity": 0.25},
      "encoding": {
        "x": {"field": "x0", "type": "quantitative", "axis": null},
        "x2": {"field": "x1"},
        "y": {"field": "h", "type": "quantitative", "axis": null},
        "y2": {"datum": 0}
      }
    },
    {
      "data": {"name": "hist"},
      "transform": [{"filter": "datum.g === 'all'"}],
      "mark": {"type": "rect", "color": "#503ce6", "opacity": 0.3},
      "encoding": {
        "x": {"field": "x0", "type": "quantitative", "axis": null},
        "x2": {"field": "x1"},
        "y": {"field": "h", "type": "quantitative", "axis": null},
        "y2": {"datum": 0}
      }
    },
    {
      "data": {"name": "comps"},
      "transform": [{"filter": "datum.f === 'd'"}],
      "mark": {"type": "line", "color": "#8844cc", "opacity": 0.55, "strokeWidth": 2, "interpolate": "monotone"},
      "encoding": {
        "x": {"field": "x", "type": "quantitative", "axis": null},
        "y": {"field": "y", "type": "quantitative", "axis": null},
        "detail": {"field": "c"}
      }
    },
    {
      "data": {"name": "comps"},
      "transform": [{"filter": "datum.f === 'p'"}],
      "mark": {"type": "line", "color": "#ee88bb", "opacity": 0.7, "strokeWidth": 2, "interpolate": "monotone"},
      "encoding": {
        "x": {"field": "x", "type": "quantitative", "axis": null},
        "y": {"field": "y", "type": "quantitative", "axis": null},
        "detail": {"field": "c"}
      }
    },
    {
      "data": {"name": "curves"},
      "mark": {"type": "line", "strokeWidth": 2.5, "interpolate": "monotone"},
      "encoding": {
        "x": {
          "field": "x", "type": "quantitative",
          "scale": {"domain": [-4.303, 2.492], "nice": false, "zero": false},
          "axis": {
            "orient": "top", "zindex": 2, "title": null, "labels": false,
            "values": [-4.2, -4, -3.8, -3.6, -3.4, -3.2, -3, -2.8, -2.6, -2.4, -2.2, -2, -1.8, -1.6, -1.4, -1.2, -1, -0.8, -0.6, -0.4, -0.2, 0, 0.2, 0.4, 0.6, 0.8, 1, 1.2, 1.4, 1.6, 1.8, 2, 2.2, 2.4],
            "domainColor": "#333", "domainWidth": 1.5,
            "tickColor": "#333", "tickWidth": 1.2,
            "tickSize": {"condition": {"test": "abs(datum.value - round(datum.value)) < 0.001", "value": -10}, "value": -5}
          }
        },
        "y": {
          "field": "y", "type": "quantitative",
          "scale": {"domain": [0, 1.336], "nice": false, "zero": false},
          "axis": {
            "orient": "right", "zindex": 2, "title": null, "labels": false,
            "values": [0, 0.05, 0.1, 0.15, 0.2, 0.25, 0.3, 0.35, 0.4, 0.45, 0.5, 0.55, 0.6, 0.65, 0.7, 0.75, 0.8, 0.85, 0.9, 0.95, 1, 1.05, 1.1, 1.15, 1.2, 1.25, 1.3],
            "domainColor": "#333", "domainWidth": 1.5,
            "tickColor": "#333", "tickWidth": 1.2,
            "tickSize": {"condition": {"test": "abs(datum.value * 5 - round(datum.value * 5)) < 0.001", "value": -10}, "value": -5}
          }
        },
        "color": {
          "field": "s", "type": "nominal",
          "scale": {"domain": ["Prompt ejections", "Delayed ejections", "All ejections"], "range": ["#e66aa5", "#8040c0", "#0000ee"]},
          "legend": {
            "orient": "none", "legendX": 660, "legendY": 13, "title": null, "padding": 0,
            "symbolType": "stroke", "symbolSize": 900, "symbolStrokeWidth": 2.5,
            "labelFont": "Liberation Serif", "labelFontSize": 20, "labelColor": "#111",
            "labelOffset": 15, "rowPadding": 4
          }
        }
      }
    },
    {
      "data": {"values": [{"v": -1.699}, {"v": 0}]},
      "mark": {"type": "rule", "color": "black", "strokeWidth": 2, "strokeDash": [6, 4]},
      "encoding": {
        "x": {"field": "v", "type": "quantitative", "axis": null}
      }
    },
    {
      "mark": {"type": "text", "text": ["2%", "Eddington"], "font": "Liberation Sans", "fontSize": 36, "lineHeight": 42, "align": "left", "baseline": "alphabetic", "color": "#7a3aa8"},
      "encoding": {
        "x": {"datum": -3.251, "type": "quantitative", "axis": null},
        "y": {"datum": 0.9878, "type": "quantitative", "axis": null}
      }
    },
    {
      "mark": {"type": "text", "text": ["Super-", "Eddington"], "font": "Liberation Sans", "fontSize": 36, "lineHeight": 44, "align": "left", "baseline": "alphabetic", "color": "#ff88cc"},
      "encoding": {
        "x": {"datum": 0.464, "type": "quantitative", "axis": null},
        "y": {"datum": 0.9776, "type": "quantitative", "axis": null}
      }
    },
    {
      "mark": {"type": "rule", "color": "#7a3aa8", "strokeWidth": 2.5},
      "encoding": {
        "x": {"datum": -2.585, "type": "quantitative", "axis": null},
        "x2": {"datum": -1.87},
        "y": {"datum": 1.0896, "type": "quantitative", "axis": null},
        "y2": {"datum": 1.0896}
      }
    },
    {
      "mark": {"type": "point", "shape": "triangle-right", "filled": true, "size": 170, "color": "#7a3aa8", "opacity": 1},
      "encoding": {
        "x": {"datum": -1.821, "type": "quantitative", "axis": null},
        "y": {"datum": 1.0896, "type": "quantitative", "axis": null}
      }
    },
    {
      "mark": {"type": "rule", "color": "#ff88cc", "strokeWidth": 2.5},
      "encoding": {
        "x": {"datum": 0.72, "type": "quantitative", "axis": null},
        "x2": {"datum": 0.395},
        "y": {"datum": 1.0896, "type": "quantitative", "axis": null},
        "y2": {"datum": 1.1263}
      }
    },
    {
      "mark": {"type": "point", "shape": "triangle", "filled": true, "size": 170, "angle": 294, "color": "#ff88cc", "opacity": 1},
      "encoding": {
        "x": {"datum": 0.36, "type": "quantitative", "axis": null},
        "y": {"datum": 1.1316, "type": "quantitative", "axis": null}
      }
    }
  ]
}
